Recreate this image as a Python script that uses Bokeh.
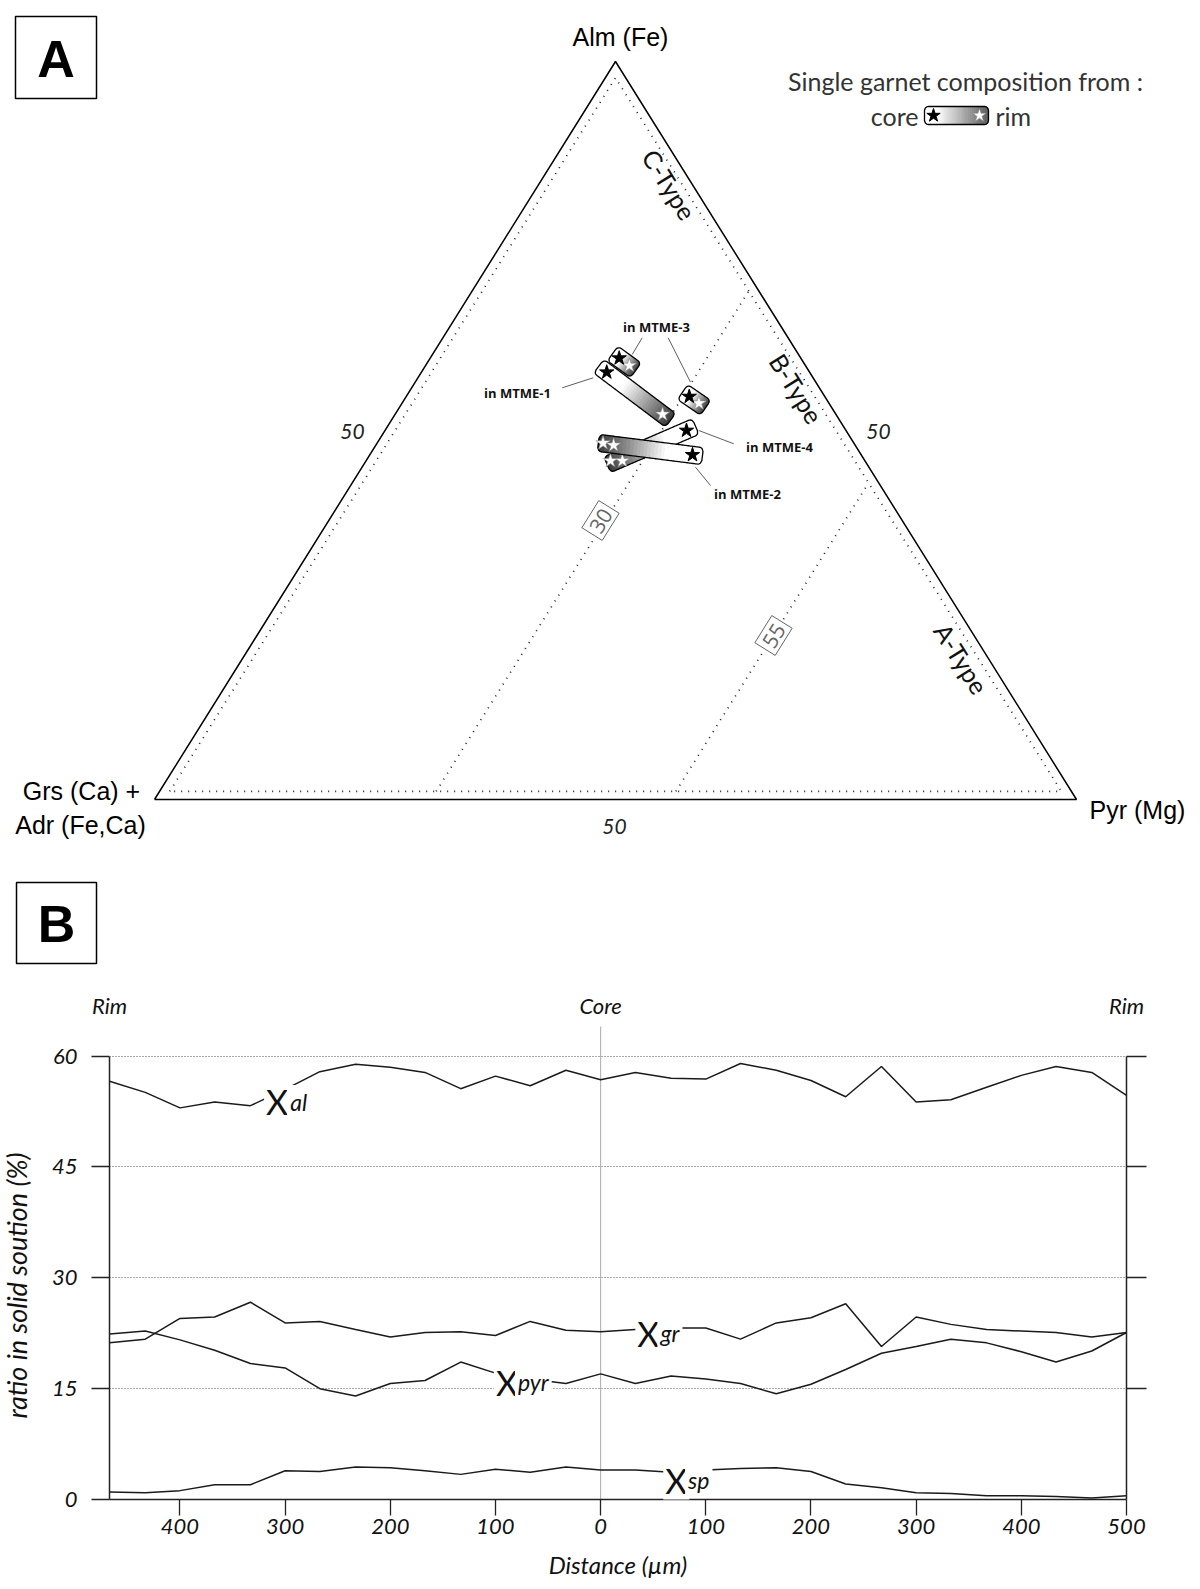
import numpy as np
from bokeh.plotting import figure
from bokeh.layouts import row
from bokeh.models import Range1d, FixedTicker, LinearAxis, Label
from bokeh.core.properties import value
from bokeh.embed import file_html
from bokeh.resources import INLINE

# ---------------- Panel A data (ternary compositions, %) ----------------
garnet_names = ["MTME-3", "MTME-1", "MTME-3", "MTME-4", "MTME-2"]
core_alm = [59.8, 57.9, 54.6, 50.0, 46.7]
core_grs = [19.7, 22.0, 14.7, 17.3, 18.3]
core_pyr = [20.5, 20.1, 30.7, 32.7, 35.0]
# rim analyses (white stars) and the garnet each belongs to
rim_garnet = [0, 1, 2, 3, 3, 4, 4]
rim_alm = [58.8, 52.2, 53.7, 45.9, 45.9, 48.3, 48.0]
rim_grs = [19.1, 18.8, 14.1, 27.6, 26.3, 27.2, 26.2]
rim_pyr = [22.1, 29.0, 32.2, 26.5, 27.8, 24.5, 25.8]
boundary_pyr = [30, 56]
boundary_labels = ["30", "55"]
type_names = ["C-Type", "B-Type", "A-Type"]
side_labels = ["50", "50", "50"]
corner_labels = ["Alm (Fe)", "Grs (Ca) +", "Adr (Fe,Ca)", "Pyr (Mg)"]

# ---------------- Panel B data ----------------
distance = [-467, -433, -400, -367, -333, -300, -267, -233, -200, -167, -133, -100, -67, -33, 0,
            33, 67, 100, 133, 167, 200, 233, 267, 300, 333, 367, 400, 433, 467, 500]
x_al = [56.6, 55.1, 53.0, 53.8, 53.3, 55.5, 57.9, 58.9, 58.5, 57.8, 55.6, 57.3, 56.0, 58.1, 56.8,
        57.8, 57.0, 56.9, 59.0, 58.1, 56.7, 54.5, 58.6, 53.8, 54.1, 55.8, 57.4, 58.6, 57.8, 54.7]
x_gr = [21.2, 21.7, 24.5, 24.7, 26.7, 23.9, 24.1, 23.0, 22.0, 22.6, 22.7, 22.2, 24.1, 22.9, 22.7,
        23.0, 23.2, 23.2, 21.7, 23.9, 24.6, 26.5, 20.7, 24.7, 23.7, 23.0, 22.8, 22.6, 22.0, 22.6]
x_pyr = [22.4, 22.8, 21.6, 20.2, 18.4, 17.8, 15.0, 14.0, 15.7, 16.1, 18.6, 17.1, 16.3, 15.7, 17.0,
         15.7, 16.7, 16.3, 15.7, 14.3, 15.6, 17.6, 19.8, 20.7, 21.7, 21.2, 20.0, 18.6, 20.1, 22.6]
x_sp = [1.0, 0.9, 1.2, 2.0, 2.0, 3.9, 3.8, 4.4, 4.3, 3.9, 3.4, 4.1, 3.7, 4.4, 4.0,
        4.0, 3.7, 4.0, 4.2, 4.3, 3.8, 2.1, 1.6, 0.9, 0.8, 0.5, 0.5, 0.4, 0.2, 0.5]
y_ticks = [0, 15, 30, 45, 60]
x_ticks = [-400, -300, -200, -100, 0, 100, 200, 300, 400, 500]
profile_ends = [(-467, "Rim"), (0, "Core"), (500, "Rim")]
y_title = "ratio in solid soution (%)"

# ---------------- Panel A geometry ----------------
SX, SY = 922.0, 738.0      # pixels per ternary unit
X0, Y0 = 154.0, 799.0      # page position of the Grs corner


def P(px, py):
    return (px - X0) / SX, (Y0 - py) / SY


def tern(alm, grs, pyr):
    a = np.asarray(alm, float)
    g = np.asarray(grs, float)
    p_ = np.asarray(pyr, float)
    t = a + g + p_
    a, p_ = a / t, p_ / t
    return p_ + 0.5 * a, a


W = 1200
HA = 1026
xa0, ya_top = P(0, 0)
xa1, ya_bot = P(W, HA)
pA = figure(width=W, height=HA, x_range=Range1d(xa0, xa1), y_range=Range1d(ya_bot, ya_top),
            output_backend="svg", toolbar_location=None, min_border=0,
            x_axis_location=None, y_axis_location=None)
pA.grid.visible = False
pA.outline_line_color = None

# outer triangle
tx, ty = tern([0, 100, 0, 0], [100, 0, 0, 100], [0, 0, 100, 0])
pA.line(tx, ty, line_color="black", line_width=1.5)
# inner dotted triangle
m = 1.1
ix, iy = tern([m, 100 - 2 * m, m, m], [100 - 2 * m, m, m, 100 - 2 * m], [m, m, 100 - 2 * m, m])
pA.line(ix, iy, line_color="#222", line_width=1.7, line_dash="1 6")
# type boundaries (constant Pyr)
for b in boundary_pyr:
    bx, by = tern([m, 100 - b - m], [100 - b - m, m], [b, b])
    pA.line(bx, by, line_color="#222", line_width=1.7, line_dash="1 6")

ANG = np.arctan2(738.0, 460.0)

# corner labels
cl_pos = [P(620, 36), P(81, 790), P(80, 824), P(1137, 809)]
pA.text([q[0] for q in cl_pos], [q[1] for q in cl_pos], text=corner_labels,
        text_font=value("Liberation Sans"), text_font_size="25px", text_align="center",
        text_baseline="middle", text_color="black")
# 50 labels
sl_pos = [P(352, 431), P(878, 431), P(614, 826)]
pA.text([q[0] for q in sl_pos], [q[1] for q in sl_pos], text=side_labels,
        text_font=value("Lato"), text_font_style="italic", text_font_size="21px",
        text_align="center", text_baseline="middle", text_color="#222")
# type labels along right side
tl_pos = [P(669, 184), P(796, 388), P(961, 658)]
pA.text([q[0] for q in tl_pos], [q[1] for q in tl_pos], text=type_names,
        text_font=value("Lato"), text_font_size="25px", text_align="center",
        text_baseline="middle", text_color="#111", angle=-ANG)
# boundary labels in boxes
bl_pos = [P(600, 520), P(773, 635)]
pA.text([q[0] for q in bl_pos], [q[1] for q in bl_pos], text=boundary_labels,
        text_font=value("Open Sans"), text_font_size="21px", text_align="center",
        text_baseline="middle", text_color="#666", angle=ANG,
        background_fill_color="white", border_line_color="#666", border_line_width=1,
        padding=4)


def gray_hex(g):
    g = int(max(0, min(255, round(g))))
    return "#%02x%02x%02x" % (g, g, g)


def garnet_box(p, c, r, pad=10.0, w=8.5, rad=4.0, n=30, end_gray=55, start_t=0.35):
    cx, cy = c[0] * SX, c[1] * SY
    rx, ry = r[0] * SX, r[1] * SY
    dx, dy = rx - cx, ry - cy
    d = np.hypot(dx, dy)
    ux, uy = dx / d, dy / d
    nx, ny = -uy, ux
    L = d + 2 * pad
    sx0, sy0 = cx - pad * ux, cy - pad * uy

    def h(s):
        if s < rad:
            return w - rad + np.sqrt(max(rad ** 2 - (rad - s) ** 2, 0))
        if s > L - rad:
            return w - rad + np.sqrt(max(rad ** 2 - (s - (L - rad)) ** 2, 0))
        return w

    def pt(s, t):
        return (sx0 + s * ux + t * nx) / SX, (sy0 + s * uy + t * ny) / SY

    xs, ys, cols = [], [], []
    edges = np.linspace(0, L, n + 1)
    for i in range(n):
        ss = np.linspace(edges[i], edges[i + 1], 4)
        poly = [pt(s, h(s)) for s in ss] + [pt(s, -h(s)) for s in ss[::-1]]
        xs.append([q[0] for q in poly])
        ys.append([q[1] for q in poly])
        tm = (edges[i] + edges[i + 1]) / 2 / L
        g = 255 if tm < start_t else 255 - (tm - start_t) / (1 - start_t) * (255 - end_gray)
        cols.append(gray_hex(g))
    p.patches(xs, ys, fill_color=cols, line_color=cols, line_width=0.6)
    ss = np.linspace(0, L, 90)
    poly = [pt(s, h(s)) for s in ss] + [pt(s, -h(s)) for s in ss[::-1]]
    p.patch([q[0] for q in poly], [q[1] for q in poly], fill_color=None,
            line_color="black", line_width=1.3)


cx_, cy_ = tern(core_alm, core_grs, core_pyr)
rx_, ry_ = tern(rim_alm, rim_grs, rim_pyr)
for i in range(len(garnet_names)):
    idx = [k for k, gidx in enumerate(rim_garnet) if gidx == i]
    rmx = float(np.mean([rx_[k] for k in idx]))
    rmy = float(np.mean([ry_[k] for k in idx]))
    small = len(idx) == 1 and np.hypot((rmx - cx_[i]) * SX, (rmy - cy_[i]) * SY) < 20
    garnet_box(pA, (cx_[i], cy_[i]), (rmx, rmy), pad=8.0 if small else 10.0,
               w=9.0 if small else 8.5)
    pA.scatter([rx_[k] for k in idx], [ry_[k] for k in idx], marker="star", size=15,
               fill_color="white", line_color="#888", line_width=0.6)
    pA.scatter([cx_[i]], [cy_[i]], marker="star", size=15, fill_color="black", line_color="black")

# sample labels and leader lines
lab_pos = [P(656, 326), P(517, 392), P(779, 446), P(747, 493)]
lab_txt = ["in MTME-3", "in MTME-1", "in MTME-4", "in MTME-2"]
pA.text([q[0] for q in lab_pos], [q[1] for q in lab_pos], text=lab_txt,
        text_font=value("Open Sans"), text_font_style="bold", text_font_size="13px",
        text_align="center", text_baseline="middle", text_color="#111")
leaders = [((641.7, 337.3), (631.7, 354)), ((667.7, 337.3), (690, 381.7)),
           ((561.7, 387.3), (592.7, 377.3)), ((698.3, 430), (733.3, 443.3)),
           ((695, 466.7), (710, 485))]
pA.segment([P(*a)[0] for a, b in leaders], [P(*a)[1] for a, b in leaders],
           [P(*b)[0] for a, b in leaders], [P(*b)[1] for a, b in leaders],
           line_color="#333", line_width=0.8)

# legend
pA.text([P(965, 80)[0]], [P(965, 80)[1]], text=["Single garnet composition from :"],
        text_font=value("Lato"), text_font_size="25px", text_align="center",
        text_baseline="middle", text_color="#333")
pA.text([P(918, 115)[0]], [P(918, 115)[1]], text=["core"], text_font=value("Lato"),
        text_font_size="25px", text_align="right", text_baseline="middle", text_color="#333")
pA.text([P(995, 115)[0]], [P(995, 115)[1]], text=["rim"], text_font=value("Lato"),
        text_font_size="25px", text_align="left", text_baseline="middle", text_color="#333")
lc, lr = P(933, 115), P(979, 115)
garnet_box(pA, lc, lr, pad=9.0, w=9.0, end_gray=90, start_t=0.2)
pA.scatter([lc[0]], [lc[1]], marker="star", size=14, fill_color="black", line_color="black")
pA.scatter([lr[0]], [lr[1]], marker="star", size=14, fill_color="white", line_color="#888",
           line_width=0.6)

# panel letters
for (l, t, r, b), letter in [((15, 16, 96, 98), "A"), ((16, 882, 96, 963), "B")]:
    pl, pt_ = P(l, t)
    pr, pb = P(r, b)
    pA.quad(left=[pl], right=[pr], top=[pt_], bottom=[pb], fill_color=None,
            line_color="black", line_width=1.5)
    cxp, cyp = P((l + r) / 2, (t + b) / 2 + 1)
    pA.text([cxp], [cyp], text=[letter], text_font=value("Liberation Sans"),
            text_font_style="bold", text_font_size="52px", text_align="center",
            text_baseline="middle", text_color="black")

# Rim / Core headers (drawn in the upper canvas, above panel B's frame)
FL, FR = 109, 1126           # panel B frame left/right in page px
pe_x = [P(FL + (d + 467) * (FR - FL) / 967.0, 1005)[0] for d, _ in profile_ends]
pe_y = [P(0, 1005)[1]] * len(profile_ends)
pA.text(pe_x, pe_y, text=[t for _, t in profile_ends], text_font=value("Lato"),
        text_font_style="italic", text_font_size="22px", text_align="center",
        text_baseline="middle", text_color="#111")

# ---------------- Panel B ----------------
HB = 561
YB0 = 1499                   # page y of value 0
KPY = 7.389                  # px per %
BOT = HA + HB - YB0          # bottom border
WT = 40                      # width of the strip carrying the y title
y_end = (YB0 - HA) / KPY

# y-axis title strip (left of panel B)
pT = figure(width=WT, height=HB, x_range=Range1d(0, WT), y_range=Range1d(YB0, HA),
            output_backend="svg", toolbar_location=None, min_border=0, min_border_bottom=BOT,
            x_axis_location=None, y_axis_location=None)
pT.grid.visible = False
pT.outline_line_color = None
pT.text([16], [1285], text=[y_title], text_font=value("Lato"), text_font_style="italic",
        text_font_size="27px", text_align="center", text_baseline="middle",
        text_color="#111", angle=np.pi / 2)

pB = figure(width=W - WT, height=HB, x_range=Range1d(-467, 500), y_range=Range1d(0, y_end),
            output_backend="svg", toolbar_location=None,
            min_border_left=FL - WT, min_border_right=W - FR, min_border_top=0,
            min_border_bottom=BOT)
pB.outline_line_color = None
pB.xgrid.visible = False
pB.ygrid.ticker = FixedTicker(ticks=[15, 30, 45, 60])
pB.ygrid.grid_line_color = "#555"
pB.ygrid.grid_line_dash = "1 2"
pB.ygrid.grid_line_width = 1

ax = pB.xaxis[0]
ax.ticker = FixedTicker(ticks=x_ticks)
ax.major_label_overrides = {t: str(abs(t)) for t in x_ticks}
ax.axis_line_color = "#222"
ax.axis_line_width = 1.5
ax.major_tick_line_color = "#222"
ax.major_tick_line_width = 1.3
ax.major_tick_out = 16
ax.major_tick_in = 0
ax.minor_tick_line_color = None
ax.major_label_text_font = "Lato"
ax.major_label_text_font_style = "italic"
ax.major_label_text_font_size = "22px"
ax.major_label_text_color = "#111"
ax.major_label_standoff = 3
ax.axis_label = "Distance (µm)"
ax.axis_label_text_font = "Lato"
ax.axis_label_text_font_style = "italic"
ax.axis_label_text_font_size = "24px"
ax.axis_label_text_color = "#111"
ax.axis_label_standoff = 13

ay = pB.yaxis[0]
ay.bounds = (0, 60)
ay.ticker = FixedTicker(ticks=y_ticks)
ay.axis_line_color = "#222"
ay.axis_line_width = 1.5
ay.major_tick_line_color = "#222"
ay.major_tick_line_width = 1.3
ay.major_tick_out = 18
ay.major_tick_in = 0
ay.minor_tick_line_color = None
ay.major_label_text_font = "Lato"
ay.major_label_text_font_style = "italic"
ay.major_label_text_font_size = "22px"
ay.major_label_text_color = "#111"
ay.major_label_standoff = 14

ar = LinearAxis(bounds=(0, 60), ticker=FixedTicker(ticks=[15, 30, 45, 60]))
ar.axis_line_color = "#222"
ar.axis_line_width = 1.5
ar.major_tick_line_color = "#222"
ar.major_tick_line_width = 1.3
ar.major_tick_out = 20
ar.major_tick_in = 0
ar.minor_tick_line_color = None
ar.major_label_overrides = {15: "", 30: "", 45: "", 60: ""}
pB.add_layout(ar, "right")

# core line
pB.segment([0], [0], [0], [64.5], line_color="#aaa", line_width=1)

for series in (x_al, x_gr, x_pyr, x_sp):
    pB.line(distance, series, line_color="#1a1a1a", line_width=1.5)

# series labels (X + subscript)
series_labels = [("al", -320, 53.8, -298), ("gr", 33, 22.5, 54), ("pyr", -101.5, 15.9, -81.5),
                 ("sp", 59.5, 2.6, 80.3)]
for sub, xx, yy, xs_ in series_labels:
    pB.add_layout(Label(x=xx, y=yy, text="X", text_font="Lato", text_font_size="34px",
                        text_color="#111", text_align="left", text_baseline="alphabetic",
                        background_fill_color="white", padding=2))
    pB.add_layout(Label(x=xs_, y=yy, text=sub, text_font="Lato", text_font_style="italic",
                        text_font_size="23px", text_color="#111", text_align="left",
                        text_baseline="alphabetic", background_fill_color="white", padding=3))

open("out.html", "w").write(file_html([pA, row(pT, pB, spacing=0)], INLINE))
